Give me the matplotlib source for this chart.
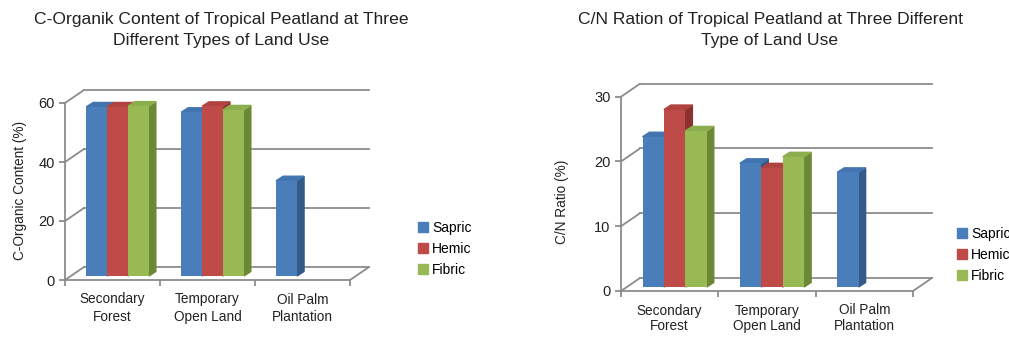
import numpy as np
import matplotlib.pyplot as plt
from matplotlib.patches import Polygon, Patch
from matplotlib.transforms import ScaledTranslation, IdentityTransform

plt.rcParams['font.family'] = ['Liberation Sans', 'DejaVu Sans']

categories = ['Secondary\nForest', 'Temporary\nOpen Land', 'Oil Palm\nPlantation']
series = ['Sapric', 'Hemic', 'Fibric']

# C-organic content (%)
corg_sapric = [57.3, 55.5, 32.3]
corg_hemic = [57.3, 57.5, np.nan]
corg_fibric = [57.6, 56.3, np.nan]

# C/N ratio
cn_sapric = [23.2, 19.1, 17.7]
cn_hemic = [27.4, 18.4, np.nan]
cn_fibric = [24.1, 20.1, np.nan]

face = ['#4a7ebb', '#be4b48', '#98b954']
side = ['#345a8a', '#8a3230', '#6c8836']
top = ['#4275b0', '#b04340', '#8cae4c']
grid_c = '#8c8c8c'

W, H = 1009, 338
fig = plt.figure(figsize=(W / 100, H / 100), dpi=100)

WALL = (19, 13)     # depth of the back wall, pixels
BOFF = (5, 4)       # bars sit a little behind the front plane
BDEP = (7, 4.5)     # depth of each bar
bw = 0.22


def panel(rect, values, ymax, ystep, ylabel, ylab_xy, title, title_x, leg_xy, ls):
    ax = fig.add_axes(rect)
    ax.set_xlim(0, 3)
    ax.set_ylim(0, ymax)
    ax.set_autoscale_on(False)
    ax.patch.set_visible(False)
    for s in ['top', 'right']:
        ax.spines[s].set_visible(False)
    for s in ['left', 'bottom']:
        ax.spines[s].set_color(grid_c)
        ax.spines[s].set_linewidth(1.3)
    yt = np.arange(0, ymax + 1, ystep)
    ax.set_yticks(yt)
    ax.set_xticks([0, 1, 2, 3])
    ax.set_xticklabels([])
    ax.set_xticks([0.5, 1.5, 2.5], minor=True)
    ax.set_xticklabels(categories, minor=True, fontsize=9.8, linespacing=ls)
    ax.tick_params(which='major', color=grid_c, width=1.3, length=4,
                   labelsize=10.5, labelcolor='#222222')
    ax.tick_params(axis='x', which='minor', length=0, pad=9, labelcolor='#222222')

    # back wall and floor
    wall = ax.transData + ScaledTranslation(WALL[0] / 100, WALL[1] / 100, fig.dpi_scale_trans)
    for v in yt:
        ax.plot([0, 3], [v, v], transform=wall, color=grid_c, lw=1.3,
                clip_on=False, zorder=1)
        ax.annotate('', xy=(0, v), xytext=WALL, textcoords='offset pixels',
                    arrowprops=dict(arrowstyle='-', color=grid_c, lw=1.3,
                                    shrinkA=0, shrinkB=0), zorder=1)
    ax.annotate('', xy=(3, 0), xytext=WALL, textcoords='offset pixels',
                arrowprops=dict(arrowstyle='-', color=grid_c, lw=1.3,
                                shrinkA=0, shrinkB=0), zorder=1)

    # bars
    front = ax.transData + ScaledTranslation(BOFF[0] / 100, BOFF[1] / 100, fig.dpi_scale_trans)
    z = 3
    for i in range(len(categories)):
        for j, vals in enumerate(values):
            h = vals[i]
            if np.isnan(h):
                continue
            x = i + 0.5 + (j - 1) * bw
            l = np.array(ax.transData.transform((x - bw / 2, h))) + BOFF
            r = np.array(ax.transData.transform((x + bw / 2, h))) + BOFF
            b = np.array(ax.transData.transform((x + bw / 2, 0))) + BOFF
            d = np.array(BDEP)
            ax.add_patch(Polygon([b, r, r + d, b + d], closed=True, color=side[j],
                                 transform=IdentityTransform(), clip_on=False, zorder=z))
            ax.add_patch(Polygon([l, r, r + d, l + d], closed=True, color=top[j],
                                 transform=IdentityTransform(), clip_on=False, zorder=z))
            ax.bar(x, h, bw, color=face[j], transform=front, clip_on=False, zorder=z)
            z += 1

    fig.text(ylab_xy[0] / W, 1 - ylab_xy[1] / H, ylabel, rotation=90,
             ha='center', va='center', fontsize=9.8, color='#222222')
    fig.text(title_x / W, 1 - 30 / H, title, ha='center', va='center',
             fontsize=12.6, color='#222222', linespacing=1.55)
    handles = [Patch(color=c) for c in face]
    fig.legend(handles, series, loc='center left',
               bbox_to_anchor=(leg_xy[0] / W, 1 - leg_xy[1] / H),
               frameon=False, fontsize=10, handlelength=0.7, handleheight=0.7,
               handletextpad=0.3, labelspacing=0.5, borderpad=0, borderaxespad=0)
    return ax


panel([65 / W, 1 - 280 / H, 285 / W, 177 / H],
      [corg_sapric, corg_hemic, corg_fibric], 60, 20,
      'C-Organic Content (%)', (20, 190),
      'C-Organik Content of Tropical Peatland at Three\nDifferent Types of Land Use',
      221, (418, 249), 1.3)

panel([621 / W, 1 - 291 / H, 292 / W, 194.3 / H],
      [cn_sapric, cn_hemic, cn_fibric], 30, 10,
      'C/N Ratio (%)', (562, 202),
      'C/N Ration of Tropical Peatland at Three Different\nType of Land Use',
      770, (957, 255), 1.15)

fig.savefig('out.png', dpi=100)
